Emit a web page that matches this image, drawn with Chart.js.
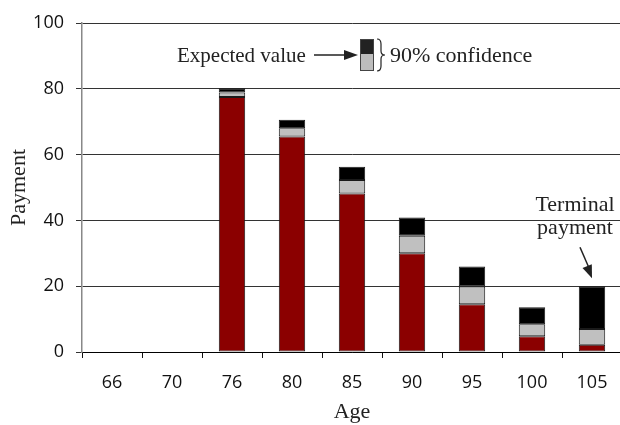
<!DOCTYPE html>
<html>
<head>
<meta charset="utf-8">
<script src="https://cdn.jsdelivr.net/npm/chart.js@4"></script>
<style>
  html, body { margin: 0; padding: 0; background: #fff; overflow: hidden; }
  #wrap { width: 620px; height: 425px; overflow: hidden; }
  #box { width: 622px; height: 425px; }
</style>
</head>
<body>
<div id="wrap"><div id="box"><canvas id="grafico"></canvas></div></div>
<script>
// dati
const ages = ['66', '70', '76', '80', '85', '90', '95', '100', '105'];
const lower = [null, null, 77.5, 65.5, 48.2, 30.0, 14.5, 4.8, 2.2];
const expected = [null, null, 78.9, 68.0, 52.3, 35.3, 19.9, 8.4, 7.0];
const upper = [null, null, 80.2, 70.6, 56.3, 40.9, 26.0, 13.6, 20.0];
const yTicks = [0, 20, 40, 60, 80, 100];

const serif = '"Liberation Serif", "Times New Roman", serif';
const sans = '"Open Sans", "Noto Sans", sans-serif';

function diff(a, b) {
    return a.map((v, i) => (v === null ? null : +(v - b[i]).toFixed(2)));
}

const segGray = diff(expected, lower);
const segBlack = diff(upper, expected);

// note e freccette
const annotazioni = {
    id: 'annotazioni',
    afterDraw(chart) {
        const ctx = chart.ctx;
        const x = chart.scales.x;
        const y = chart.scales.y;
        ctx.save();
        ctx.fillStyle = '#222';
        ctx.strokeStyle = '#222';
        ctx.font = '22px ' + serif;
        ctx.textBaseline = 'alphabetic';

        // legenda in alto
        ctx.textAlign = 'left';
        ctx.font = '21px ' + serif;
        ctx.fillText('Expected value', 177, 62);
        ctx.font = '22px ' + serif;
        ctx.lineWidth = 1.5;
        ctx.beginPath();
        ctx.moveTo(314, 55);
        ctx.lineTo(346, 55);
        ctx.stroke();
        ctx.beginPath();
        ctx.moveTo(358, 55);
        ctx.lineTo(344, 50);
        ctx.lineTo(344, 60);
        ctx.closePath();
        ctx.fill();

        ctx.fillStyle = '#222';
        ctx.fillRect(360, 39, 14, 15);
        ctx.fillStyle = '#bdbdbd';
        ctx.fillRect(360, 54, 14, 17);
        ctx.strokeStyle = '#444';
        ctx.lineWidth = 1;
        ctx.strokeRect(360.5, 39.5, 13, 31);

        // graffa
        ctx.strokeStyle = '#222';
        ctx.lineWidth = 1.2;
        ctx.beginPath();
        ctx.moveTo(377, 39);
        ctx.quadraticCurveTo(381, 39, 381, 44);
        ctx.lineTo(381, 51);
        ctx.quadraticCurveTo(381, 55, 385, 55);
        ctx.quadraticCurveTo(381, 55, 381, 59);
        ctx.lineTo(381, 66);
        ctx.quadraticCurveTo(381, 71, 377, 71);
        ctx.stroke();

        ctx.fillStyle = '#222';
        ctx.fillText('90% confidence', 390, 62);

        // pagamento terminale
        const px = x.getPixelForValue(8);
        const py = y.getPixelForValue(upper[8]);
        ctx.textAlign = 'center';
        ctx.fillText('Terminal', px - 17, py - 75);
        ctx.fillText('payment', px - 17, py - 52);
        ctx.lineWidth = 1.5;
        ctx.beginPath();
        ctx.moveTo(px - 12, py - 39);
        ctx.lineTo(px - 2, py - 16);
        ctx.stroke();
        const ang = Math.atan2(30, 12);
        const tx = px, ty = py - 8;
        ctx.beginPath();
        ctx.moveTo(tx, ty);
        ctx.lineTo(tx - 13 * Math.cos(ang) + 5 * Math.sin(ang), ty - 13 * Math.sin(ang) - 5 * Math.cos(ang));
        ctx.lineTo(tx - 13 * Math.cos(ang) - 5 * Math.sin(ang), ty - 13 * Math.sin(ang) + 5 * Math.cos(ang));
        ctx.closePath();
        ctx.fill();
        ctx.restore();
    }
};

const ctx = document.getElementById('grafico').getContext('2d');
const grafico = new Chart(ctx, {
    type: 'bar',
    data: {
        labels: ages,
        datasets: [
            { label: 'lower', data: lower, backgroundColor: '#8b0000' },
            { label: 'expected', data: segGray, backgroundColor: '#c0c0c0' },
            { label: 'upper', data: segBlack, backgroundColor: '#000000' }
        ].map(d => Object.assign(d, {
            borderColor: '#1a1a1a',
            borderWidth: 1,
            borderSkipped: false,
            categoryPercentage: 1,
            barPercentage: 0.44
        }))
    },
    options: {
        responsive: true,
        maintainAspectRatio: false,
        animation: false,
        layout: { padding: { top: 23, right: 0, bottom: 0, left: 0 } },
        plugins: {
            legend: { display: false },
            tooltip: { enabled: false }
        },
        scales: {
            x: {
                stacked: true,
                afterFit: s => { s.height = 73; },
                grid: {
                    offset: true,
                    drawOnChartArea: false,
                    tickLength: 6,
                    color: '#111'
                },
                border: { color: '#000', width: 1 },
                ticks: {
                    font: { family: sans, size: 18 },
                    color: '#111',
                    padding: 14,
                    maxRotation: 0
                },
                title: {
                    display: true,
                    text: 'Age',
                    font: { family: serif, size: 22 },
                    color: '#222',
                    padding: { top: 0, bottom: 0 }
                }
            },
            y: {
                stacked: true,
                min: 0,
                max: 100,
                afterFit: s => { s.width = 82; },
                afterBuildTicks: s => { s.ticks = yTicks.map(v => ({ value: v })); },
                grid: {
                    color: '#333',
                    lineWidth: 1,
                    tickLength: 6
                },
                border: { color: '#888', width: 1.5 },
                ticks: {
                    font: { family: sans, size: 18 },
                    color: '#111',
                    padding: 12
                },
                title: {
                    display: true,
                    text: 'Payment',
                    font: { family: serif, size: 22 },
                    color: '#222',
                    padding: { top: 6, bottom: 0 }
                }
            }
        }
    },
    plugins: [annotazioni]
});
</script>
</body>
</html>
